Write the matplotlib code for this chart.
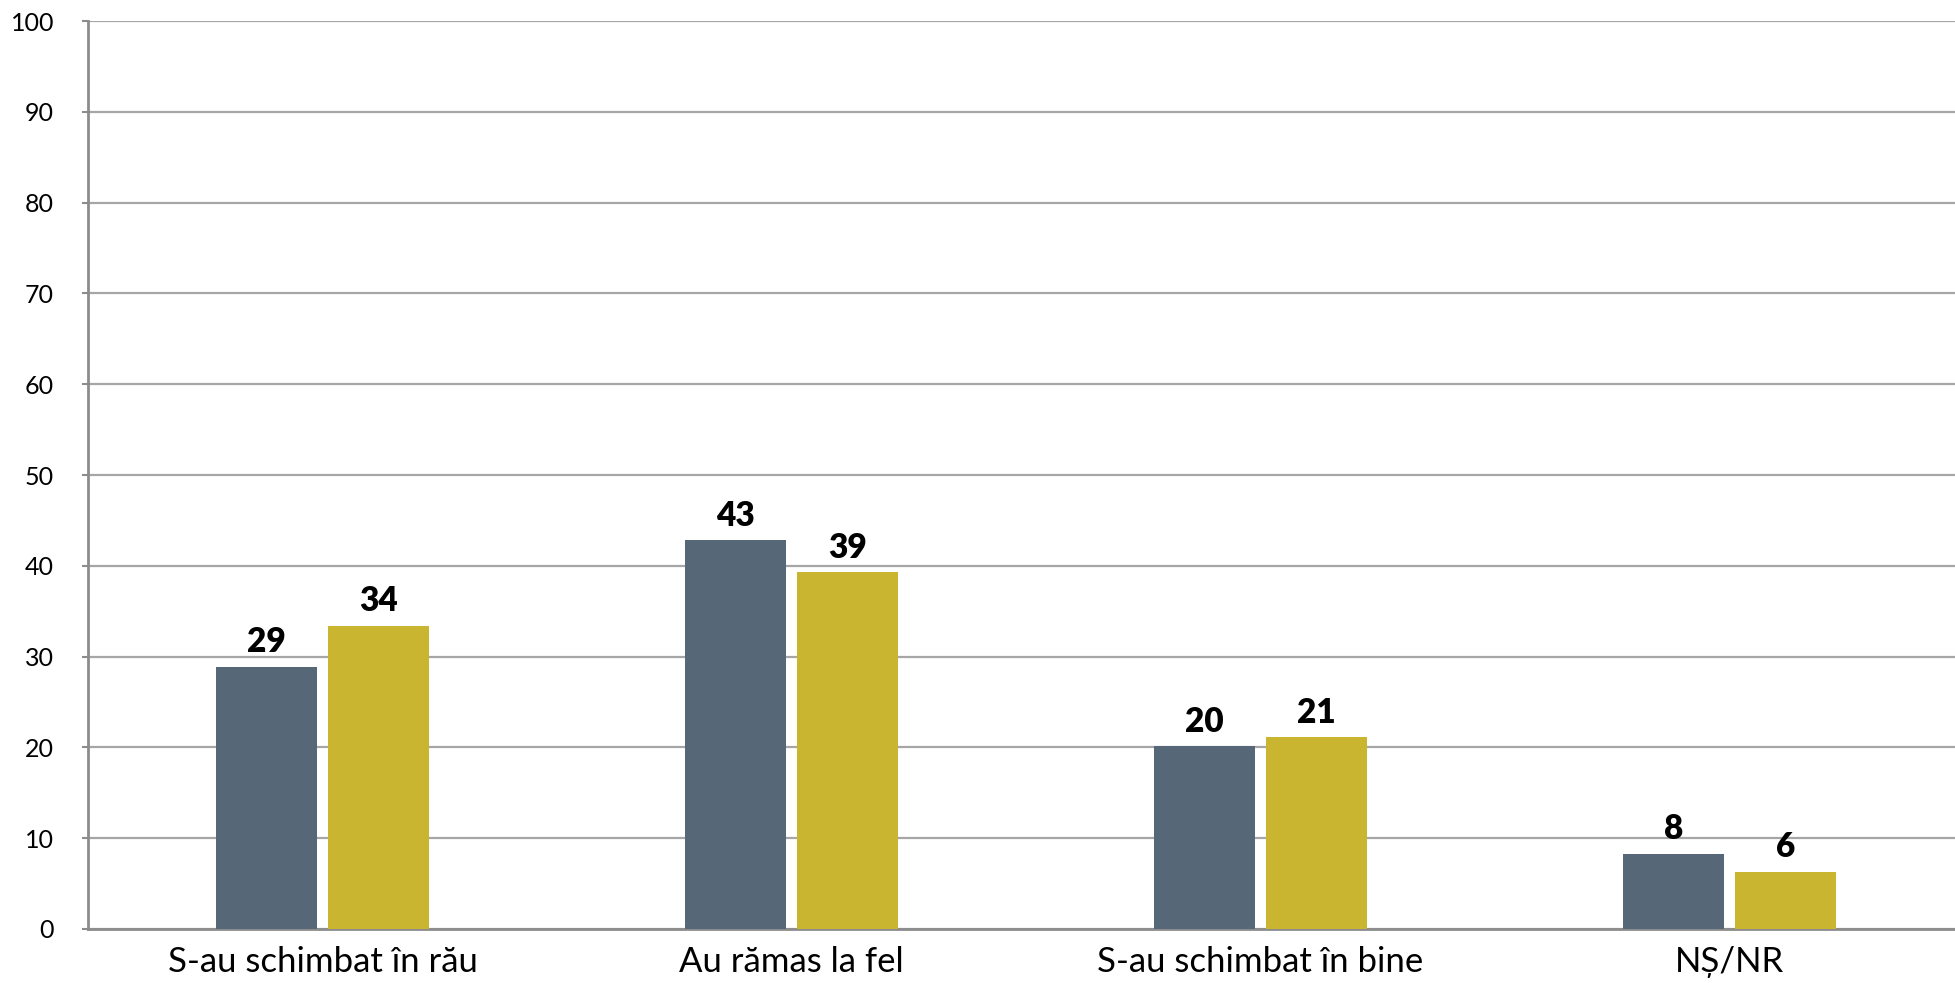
import numpy as np
import matplotlib
matplotlib.use('Agg')
import matplotlib.pyplot as plt

# Category labels and series values
categories = ['S-au schimbat în rău', 'Au rămas la fel', 'S-au schimbat în bine', 'NȘ/NR']
series_a = [28.9, 42.8, 20.1, 8.3]
series_b = [33.4, 39.3, 21.1, 6.3]
labels_a = ['29', '43', '20', '8']
labels_b = ['34', '39', '21', '6']
yticks = [0, 10, 20, 30, 40, 50, 60, 70, 80, 90, 100]

color_a = '#566778'
color_b = '#C9B530'
grid_color = '#A6A6A6'
axis_color = '#8C8C8C'

plt.rcParams['font.family'] = ['Lato', 'DejaVu Sans']

fig = plt.figure(figsize=(19.56, 9.83), dpi=100)
ax = fig.add_axes([88 / 1956, 1 - 929 / 983, (1964 - 88) / 1956, (929 - 21) / 983])

x = np.arange(len(categories))
width = 0.216
offset = 0.119

bars_a = ax.bar(x - offset, series_a, width, color=color_a, zorder=3)
bars_b = ax.bar(x + offset, series_b, width, color=color_b, zorder=3)

# data labels above each bar
for bars, labels in [(bars_a, labels_a), (bars_b, labels_b)]:
    for bar, lab in zip(bars, labels):
        ax.annotate(lab, (bar.get_x() + bar.get_width() / 2, bar.get_height()),
                    xytext=(0, 6), textcoords='offset points', ha='center', va='bottom',
                    fontsize=24, fontweight='heavy')

ax.set_xlim(-0.5, len(categories) - 0.5)
ax.set_ylim(0, 100)
ax.set_yticks(yticks)
ax.set_xticks(x)
ax.set_xticklabels(categories, fontsize=25)
ax.tick_params(axis='x', length=0, pad=12)
ax.tick_params(axis='y', length=4.5, width=1.5, color=axis_color, pad=20, labelsize=18)

ax.yaxis.grid(True, color=grid_color, linewidth=1.6, zorder=0)
ax.set_axisbelow(True)
for side in ['top', 'right']:
    ax.spines[side].set_visible(False)
ax.spines['left'].set_color(axis_color)
ax.spines['left'].set_linewidth(2)
ax.spines['bottom'].set_color(axis_color)
ax.spines['bottom'].set_linewidth(2)

fig.savefig('out.png', dpi=100)
